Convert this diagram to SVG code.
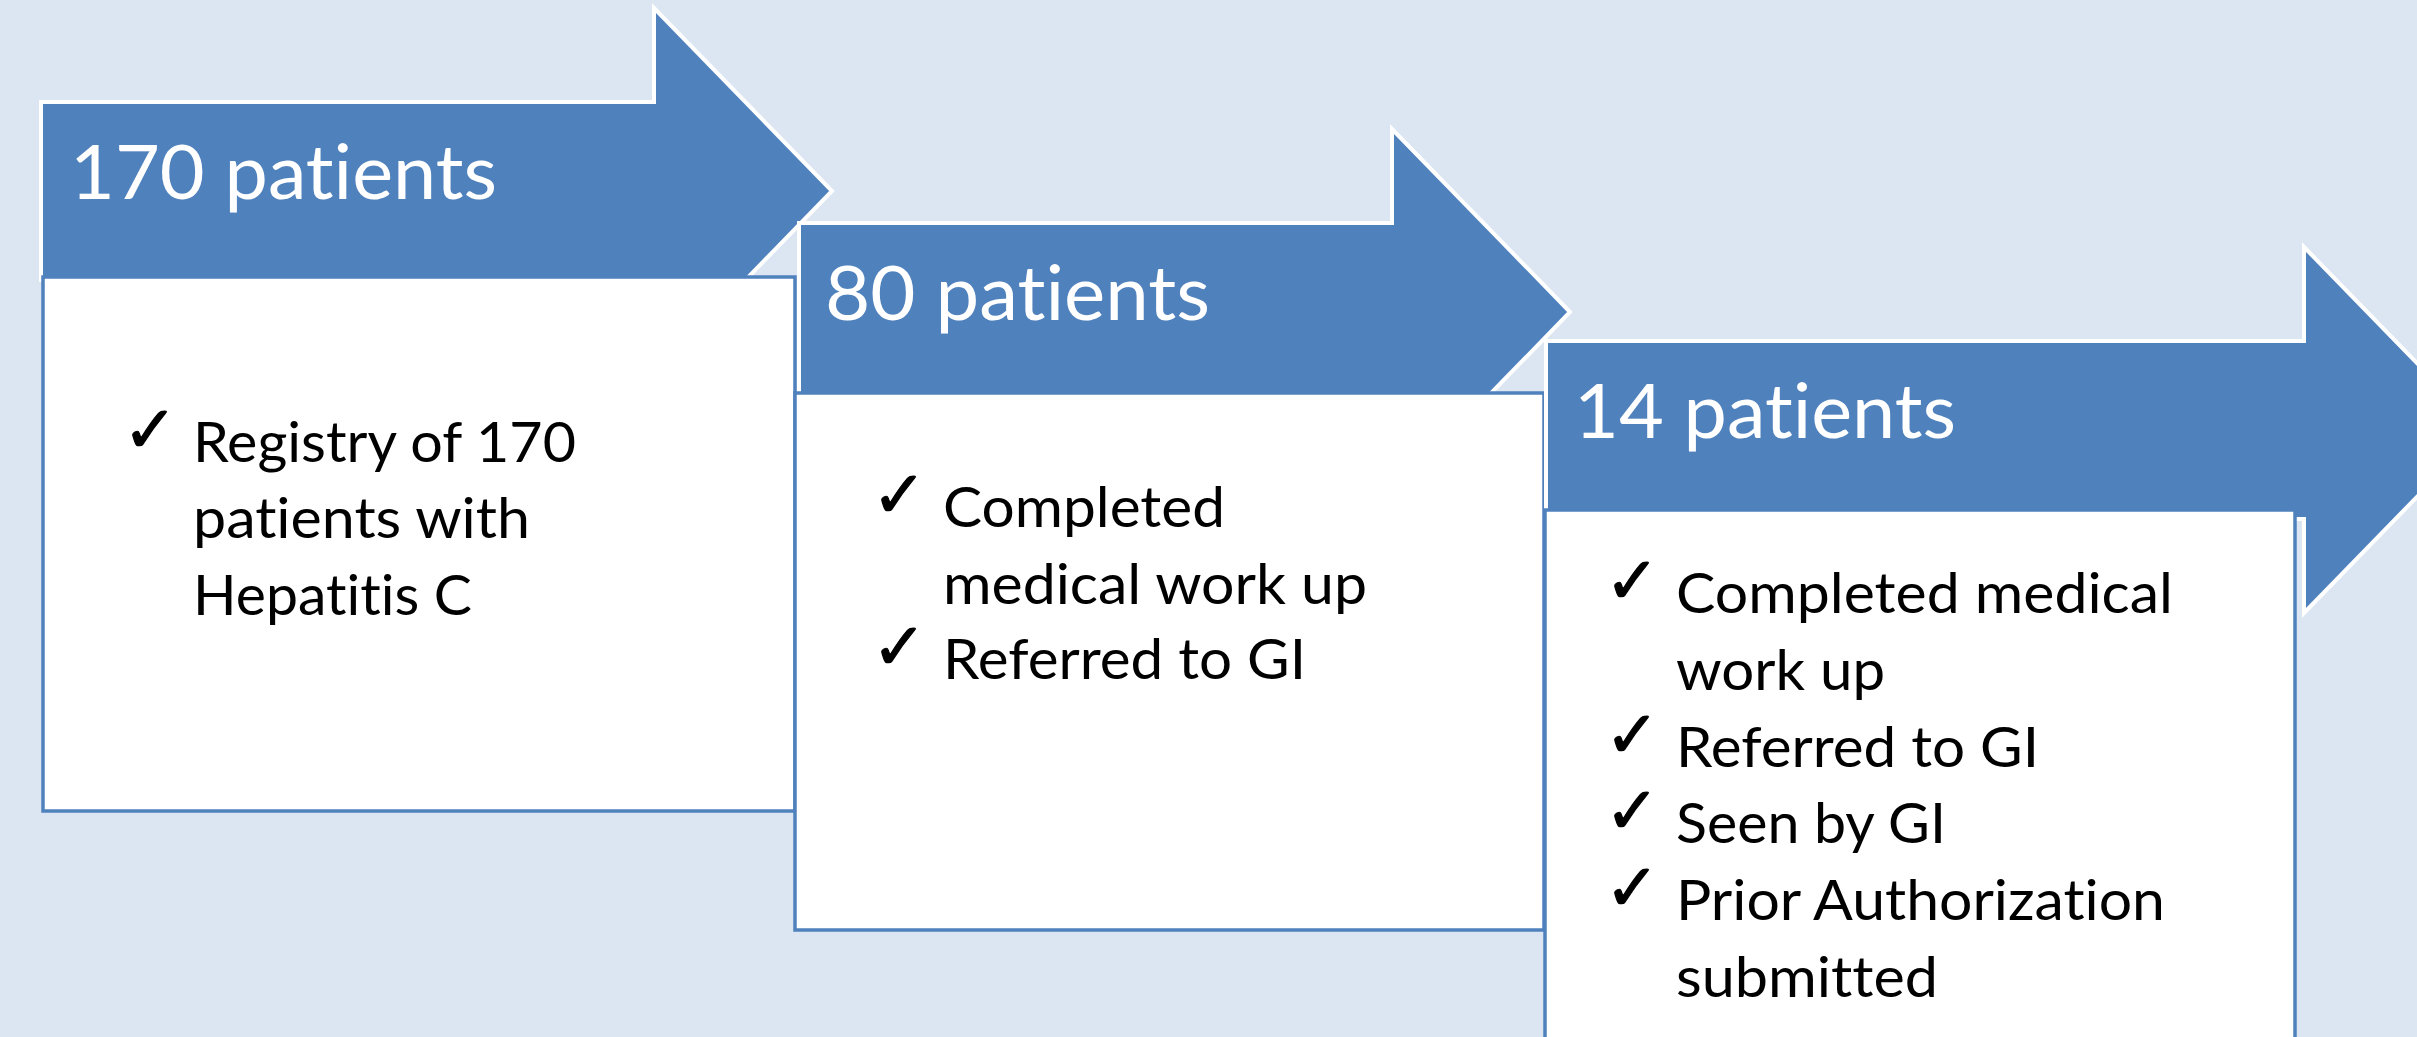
<svg xmlns="http://www.w3.org/2000/svg" width="2417" height="1037" viewBox="0 0 2417 1037">
<style>
.bg{fill:#DCE6F2}
.arrow{fill:#4F81BD;stroke:#FFFFFF;stroke-width:4;stroke-linejoin:miter}
.box{fill:#FFFFFF;stroke:#4F81BD;stroke-width:3.5}
.hdr{font-family:Lato,"Open Sans","Liberation Sans",sans-serif;font-size:75px;fill:#FFFFFF;font-variant-ligatures:none}
.txt{font-family:Lato,"Open Sans","Liberation Sans",sans-serif;font-size:56px;fill:#000000;font-variant-ligatures:none}
.chk{font-family:"DejaVu Sans",sans-serif;font-size:65px;fill:#000000;stroke:#000000;stroke-width:1.2}
</style>
<rect class="bg" x="0" y="0" width="2417" height="1037"/>
<g id="connectors"/>
<g id="node1">
<polygon class="arrow" points="41,102 654,102 654,8 832,191 654,374 654,280 41,280"/>
<text class="hdr" x="70" y="199" textLength="427" lengthAdjust="spacingAndGlyphs">170 patients</text>
<rect class="box" x="43" y="277" width="752" height="534"/>
<text class="chk" x="123" y="452">✓</text>
<text class="txt" x="193" y="462" textLength="383" lengthAdjust="spacingAndGlyphs">Registry of 170</text>
<text class="txt" x="193" y="538" textLength="337" lengthAdjust="spacingAndGlyphs">patients with</text>
<text class="txt" x="193" y="615" textLength="279" lengthAdjust="spacingAndGlyphs">Hepatitis C</text>
</g>
<g id="node2">
<polygon class="arrow" points="799,223 1392,223 1392,129 1570,312 1392,495 1392,401 799,401"/>
<text class="hdr" x="825" y="320" textLength="385" lengthAdjust="spacingAndGlyphs">80 patients</text>
<rect class="box" x="795" y="393" width="749" height="537"/>
<text class="chk" x="872" y="517">✓</text>
<text class="txt" x="943" y="527" textLength="282" lengthAdjust="spacingAndGlyphs">Completed</text>
<text class="txt" x="943" y="604" textLength="424" lengthAdjust="spacingAndGlyphs">medical work up</text>
<text class="chk" x="872" y="669">✓</text>
<text class="txt" x="943" y="679" textLength="363" lengthAdjust="spacingAndGlyphs">Referred to GI</text>
</g>
<g id="node3">
<polygon class="arrow" points="1546,341 2304,341 2304,247 2482,430 2304,613 2304,519 1546,519"/>
<text class="hdr" x="1574" y="438" textLength="382" lengthAdjust="spacingAndGlyphs">14 patients</text>
<rect class="box" x="1545" y="510" width="750" height="600"/>
<text class="chk" x="1605" y="603">✓</text>
<text class="txt" x="1676" y="613" textLength="497" lengthAdjust="spacingAndGlyphs">Completed medical</text>
<text class="txt" x="1676" y="690" textLength="209" lengthAdjust="spacingAndGlyphs">work up</text>
<text class="chk" x="1605" y="757">✓</text>
<text class="txt" x="1676" y="767" textLength="363" lengthAdjust="spacingAndGlyphs">Referred to GI</text>
<text class="chk" x="1605" y="833">✓</text>
<text class="txt" x="1676" y="843" textLength="270" lengthAdjust="spacingAndGlyphs">Seen by GI</text>
<text class="chk" x="1605" y="910">✓</text>
<text class="txt" x="1676" y="920" textLength="489" lengthAdjust="spacingAndGlyphs">Prior Authorization</text>
<text class="txt" x="1676" y="997" textLength="262" lengthAdjust="spacingAndGlyphs">submitted</text>
</g>
</svg>
